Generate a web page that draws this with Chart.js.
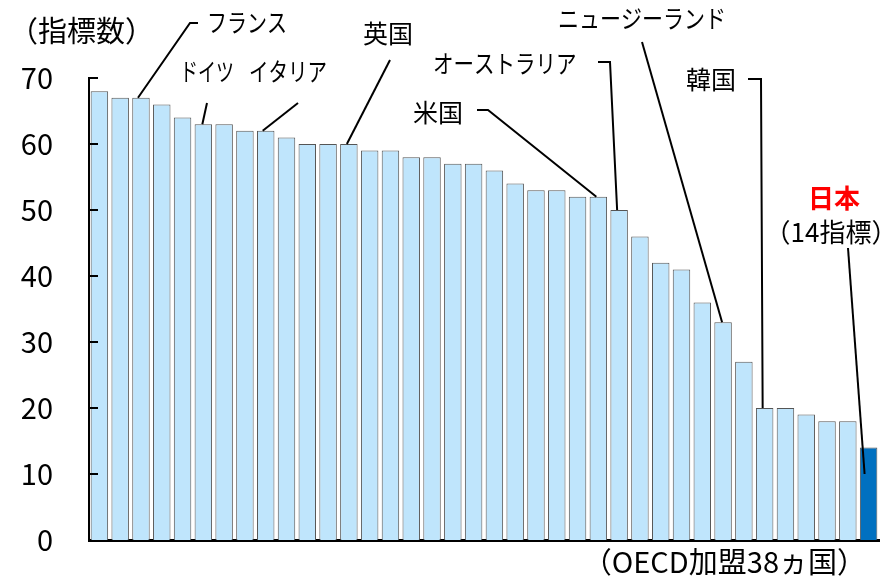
<!DOCTYPE html>
<html>
<head>
<meta charset="utf-8">
<script src="https://cdn.jsdelivr.net/npm/chart.js@4"></script>
<style>
  html, body { margin: 0; padding: 0; background: #fff; }
  #wrap { width: 893px; height: 580px; position: relative; }
</style>
</head>
<body>
<div id="wrap"><canvas id="myChart"></canvas></div>
<script>
// データ（OECD加盟38ヵ国、指標数の多い順）
var countries = ['', '', 'フランス', '', '', 'ドイツ', '', '', 'イタリア', '', '', '', '英国', '', '',
  '', '', '', '', '', '', '', '', '', '米国', 'オーストラリア', '', '', '', '', 'ニュージーランド', '',
  '韓国', '', '', '', '', '日本'];
var indicatorCounts = [68, 67, 67, 66, 64, 63, 63, 62, 62, 61, 60, 60, 60, 59, 59, 58, 58, 57, 57,
  56, 54, 53, 53, 52, 52, 50, 46, 42, 41, 36, 33, 27, 20, 20, 19, 18, 18, 14];
var yTicks = [0, 10, 20, 30, 40, 50, 60, 70];
var japanIndex = 37;

var barColors = indicatorCounts.map(function (v, i) {
  return i === japanIndex ? '#0070C0' : '#BFE5FC';
});

// 吹き出しラベル（引き出し線の先は棒の位置）
// sx: カタカナは細めのフォントに合わせて横幅を縮める
var callouts = [
  { text: 'フランス', x: 207, y: 22, sx: 0.8, pts: [[198, 23], [190, 23]], bar: 2, val: 67, dx: -3 },
  { text: 'ドイツ', x: 180, y: 71, sx: 0.72, pts: [[207, 103]], bar: 5, val: 63, dx: -1 },
  { text: 'イタリア', x: 249, y: 71, sx: 0.78, pts: [[298, 103]], bar: 8, val: 62, dx: -3 },
  { text: '英国', x: 363, y: 33, sx: 1, pts: [[390, 60]], bar: 12, val: 60, dx: -2 },
  { text: 'オーストラリア', x: 433, y: 63, sx: 0.82, pts: [[598, 62], [610, 62]], bar: 25, val: 50, dx: -2 },
  { text: '米国', x: 413, y: 112, sx: 1, pts: [[477, 110], [488, 110]], bar: 24, val: 52, dx: -2 },
  { text: 'ニュージーランド', x: 558, y: 18, sx: 0.84, pts: [[642, 42]], bar: 30, val: 33, dx: -1 },
  { text: '韓国', x: 686, y: 79, sx: 1, pts: [[748, 79], [761, 79]], bar: 32, val: 20, dx: -2 },
  { text: '', x: 0, y: 0, sx: 1, pts: [[848, 248]], bar: 37, val: 10, dx: -4 }
];

var jpFont = '"Noto Sans CJK JP", "Noto Sans", sans-serif';

var annotationPlugin = {
  id: 'annotations',
  afterDraw: function (chart) {
    var c = chart.ctx;
    var xs = chart.scales.x;
    var ys = chart.scales.y;
    c.save();

    // 内向きの目盛り線
    c.strokeStyle = '#000';
    c.lineWidth = 2;
    yTicks.forEach(function (t) {
      if (t === 0) return;
      var py = Math.round(ys.getPixelForValue(t));
      c.beginPath();
      c.moveTo(xs.left - 1, py);
      c.lineTo(xs.left + 9, py);
      c.stroke();
    });

    // 引き出し線とラベル
    c.fillStyle = '#000';
    c.textBaseline = 'middle';
    c.textAlign = 'left';
    c.font = '25px ' + jpFont;
    callouts.forEach(function (a) {
      c.beginPath();
      c.moveTo(a.pts[0][0], a.pts[0][1]);
      for (var k = 1; k < a.pts.length; k++) c.lineTo(a.pts[k][0], a.pts[k][1]);
      c.lineTo(xs.getPixelForValue(a.bar) + a.dx, ys.getPixelForValue(a.val));
      c.stroke();
      if (a.text) {
        c.save();
        c.translate(a.x, a.y);
        c.scale(a.sx, 1);
        c.fillText(a.text, 0, 0);
        c.restore();
      }
    });

    c.font = '29px ' + jpFont;
    c.fillText('（指標数）', 9, 31);

    c.textAlign = 'center';
    c.fillStyle = '#FF0000';
    c.font = 'bold 26px ' + jpFont;
    c.fillText('日本', 834, 198);
    c.fillStyle = '#000';
    c.font = '26px ' + jpFont;
    c.fillText('（14指標）', 831, 232);

    c.textAlign = 'right';
    c.font = '29px ' + jpFont;
    c.fillText('（OECD加盟38ヵ国）', 866, 562);
    c.restore();
  }
};

var ctx = document.getElementById('myChart').getContext('2d');
var myChart = new Chart(ctx, {
  type: 'bar',
  data: {
    labels: countries,
    datasets: [{
      data: indicatorCounts,
      backgroundColor: barColors,
      borderColor: '#555',
      borderWidth: 1,
      categoryPercentage: 1,
      barPercentage: 0.84
    }]
  },
  options: {
    responsive: true,
    maintainAspectRatio: false,
    animation: false,
    layout: { padding: { left: 0, top: 78, right: 14, bottom: 40 } },
    plugins: { legend: { display: false }, tooltip: { enabled: false } },
    scales: {
      x: {
        ticks: { display: false },
        grid: { display: false, drawTicks: false },
        border: { display: true, color: '#000', width: 3 },
        afterFit: function (s) { s.height = 0; }
      },
      y: {
        min: 0,
        max: 70,
        ticks: {
          stepSize: 10,
          padding: 36,
          color: '#000',
          font: { family: jpFont, size: 29 }
        },
        grid: { display: false, drawTicks: false },
        border: { display: true, color: '#000', width: 2 },
        afterFit: function (s) {
          s.width = 89;
          s.paddingTop = 0;
          s.paddingBottom = 0;
        }
      }
    }
  },
  plugins: [annotationPlugin]
});
</script>
</body>
</html>
